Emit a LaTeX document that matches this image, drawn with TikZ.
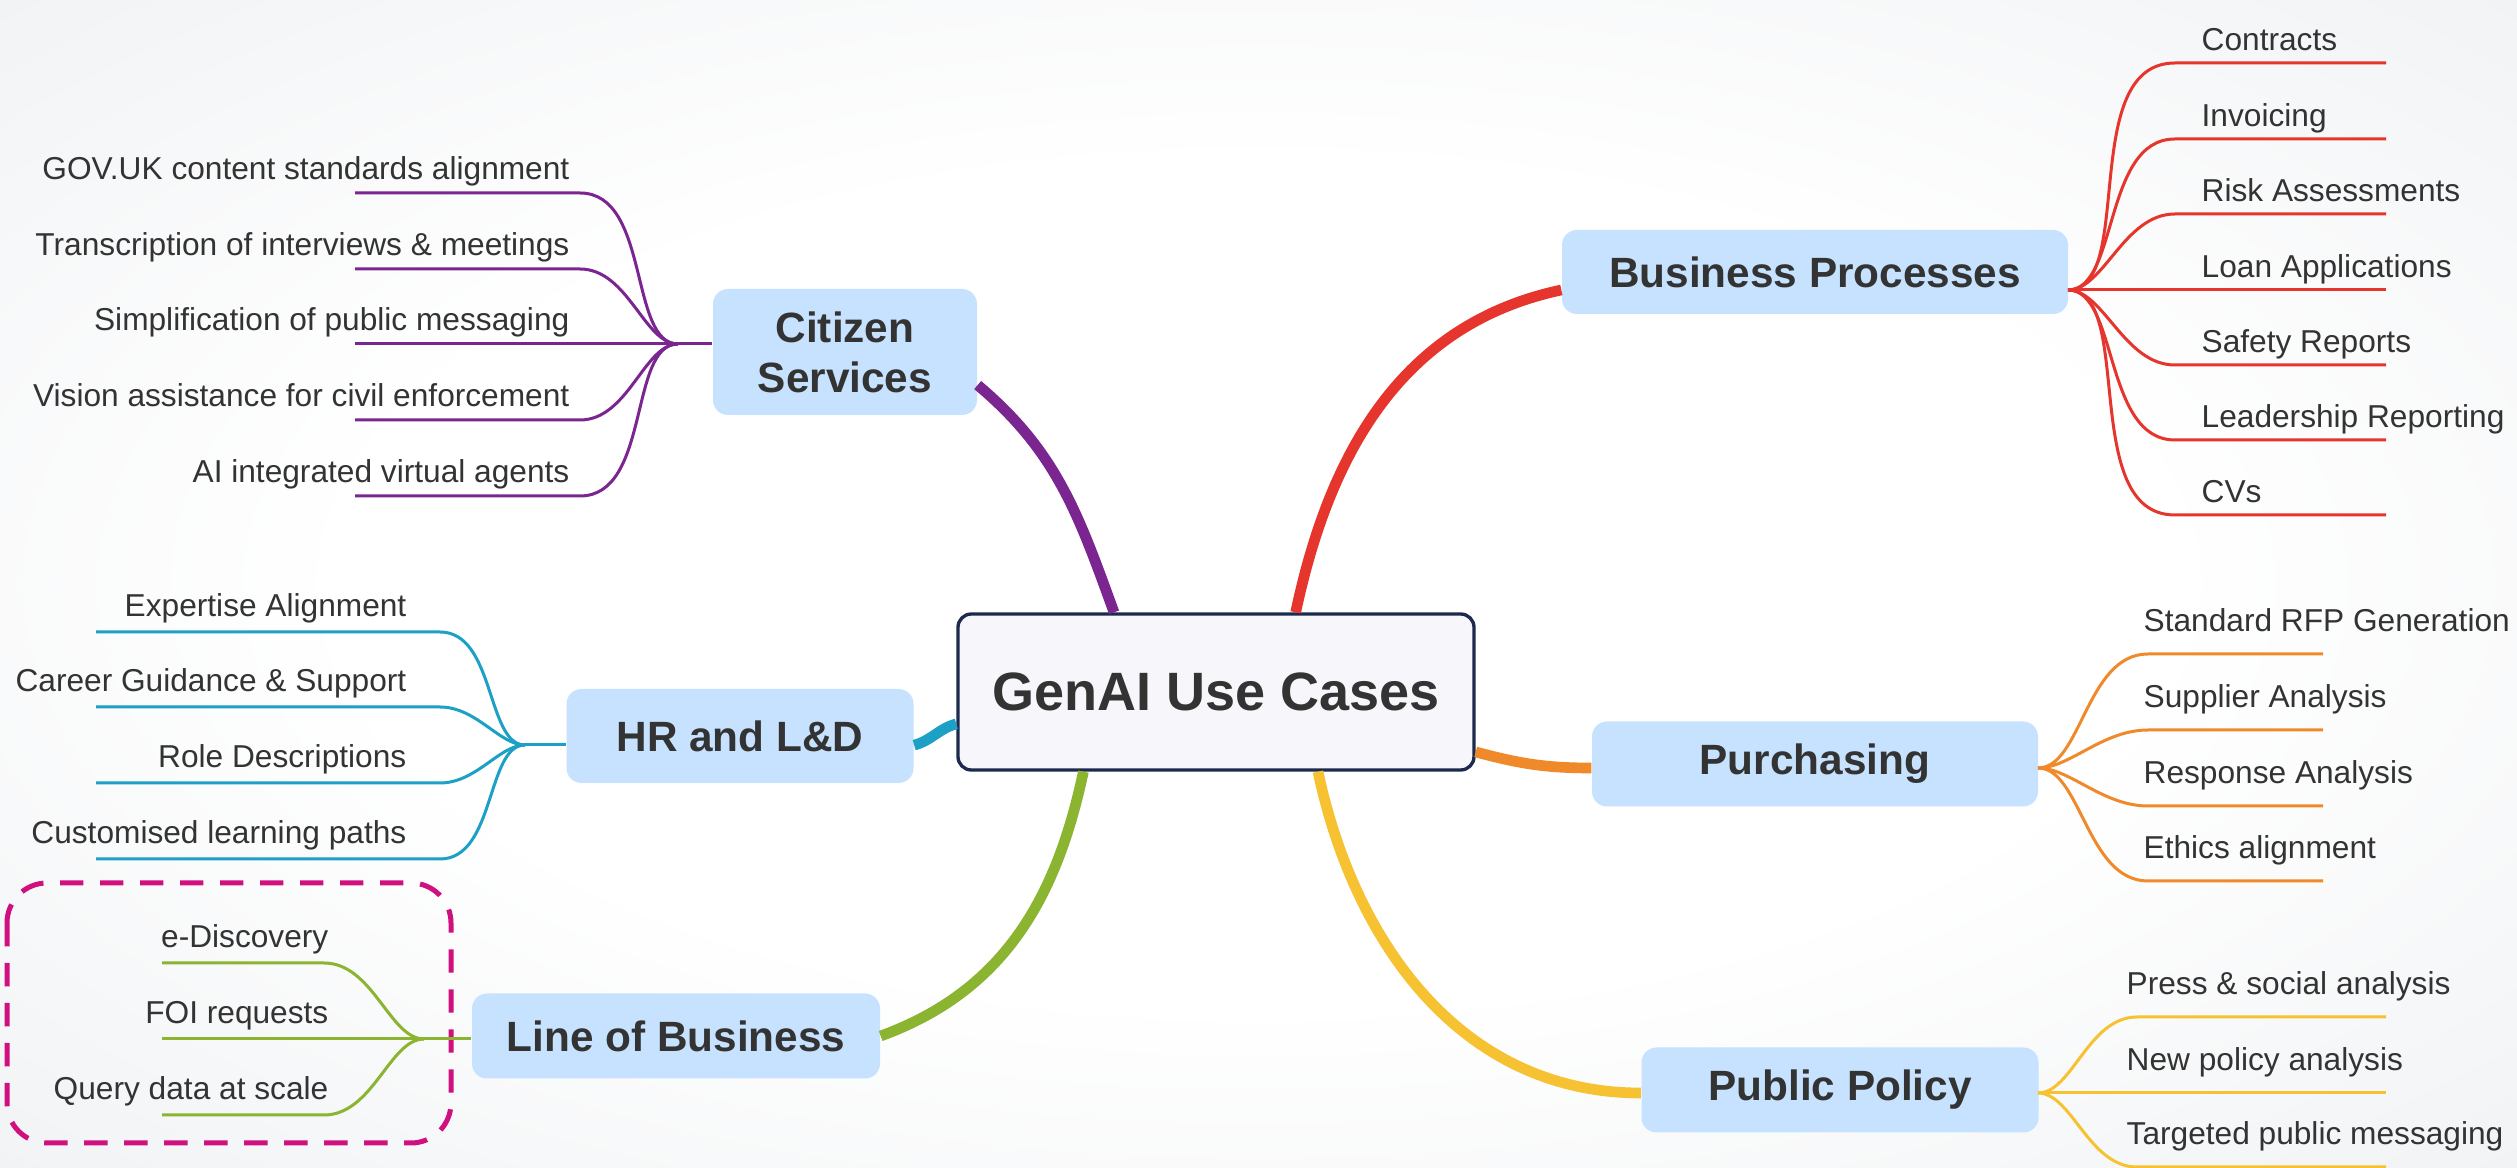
\documentclass[tikz,border=0pt]{standalone}
\usepackage{fontspec}
\setmainfont{Liberation Sans}
\definecolor{ink}{HTML}{333333}
\definecolor{bgedge}{HTML}{E6E9EC}
\definecolor{rootfill}{HTML}{F6F6FB}
\definecolor{rootline}{HTML}{1C2A4C}
\definecolor{topicfill}{HTML}{C6E2FE}
\definecolor{cpurple}{HTML}{7A2590}
\definecolor{cred}{HTML}{E5352D}
\definecolor{ccyan}{HTML}{1CA0C6}
\definecolor{corange}{HTML}{F0892A}
\definecolor{cgreen}{HTML}{8BB431}
\definecolor{cyellow}{HTML}{F6C231}
\definecolor{framepink}{HTML}{D0107F}
\pgfdeclareradialshading{bgshade}{\pgfpoint{0bp}{0bp}}{color(0bp)=(white); color(18bp)=(white); color(50bp)=(bgedge); color(100bp)=(bgedge)}
\begin{document}
\begin{tikzpicture}[x=0.3pt,y=-0.3pt,
  root/.style={draw=rootline, line width=1pt, fill=rootfill, rounded corners=4pt,
    minimum width=154.8pt, minimum height=46.8pt, text=ink,
    font=\fontsize{16.2}{19}\selectfont\bfseries},
  topic/.style={fill=topicfill, rounded corners=4.5pt, inner sep=0pt, align=center,
    text=ink, font=\fontsize{12.7}{15}\selectfont\bfseries},
  leafl/.style={anchor=base east, inner sep=0pt, text=ink, font=\fontsize{9.5}{11}\selectfont},
  leafr/.style={anchor=base west, inner sep=0pt, text=ink, font=\fontsize{9.5}{11}\selectfont},
  trunk/.style={line width=3.2pt},
  twig/.style={line width=0.9pt},
  lcurve/.style={out=180, in=0, out looseness=0.7, in looseness=1},
  rcurve/.style={out=0, in=180, out looseness=0.7, in looseness=1},
  lbframe/.style={draw=framepink, line width=1.5pt, dash pattern=on 7pt off 5pt, rounded corners=12pt}]
      \shade[shading=bgshade] (0,0) rectangle (2517,1168);
      \useasboundingbox (0,0) rectangle (2517,1168);
      \draw
        (1216,692) node[root] (root){GenAI Use Cases}
        (845,352) node[topic, minimum width=79.2pt, minimum height=37.8pt] (cs){Citizen\\Services}
        (1815,272) node[topic, minimum width=151.8pt, minimum height=25.2pt] (bp){Business Processes}
        (740,736) node[topic, minimum width=104.1pt, minimum height=28.2pt] (hr){HR and L\&D}
        (1815,764) node[topic, minimum width=133.8pt, minimum height=25.5pt] (pu){Purchasing}
        (1840,1090) node[topic, minimum width=119.1pt, minimum height=25.5pt] (pp){Public Policy}
        (676,1036) node[topic, minimum width=122.4pt, minimum height=25.5pt] (lb){Line of Business};
      \draw
        (678,344) coordinate (cshub)
        (580,193) coordinate (cs1a) (355,193) coordinate (cs1b)
        (580,269) coordinate (cs2a) (355,269) coordinate (cs2b)
        (580,344) coordinate (cs3a) (355,344) coordinate (cs3b)
        (580,420) coordinate (cs4a) (355,420) coordinate (cs4b)
        (580,496) coordinate (cs5a) (355,496) coordinate (cs5b)
        (570,180) node[leafl] (cs1){GOV.UK content standards alignment}
        (570,256) node[leafl] (cs2){Transcription of interviews \& meetings}
        (570,331) node[leafl] (cs3){Simplification of public messaging}
        (570,407) node[leafl] (cs4){Vision assistance for civil enforcement}
        (570,483) node[leafl] (cs5){AI integrated virtual agents};
      \draw
        (525,745) coordinate (hrhub)
        (440,632) coordinate (hr1a) (96,632) coordinate (hr1b)
        (440,707) coordinate (hr2a) (96,707) coordinate (hr2b)
        (440,783) coordinate (hr3a) (96,783) coordinate (hr3b)
        (440,859) coordinate (hr4a) (96,859) coordinate (hr4b)
        (407,617) node[leafl] (hr1){Expertise Alignment}
        (407,692) node[leafl] (hr2){Career Guidance \& Support}
        (407,768) node[leafl] (hr3){Role Descriptions}
        (407,844) node[leafl] (hr4){Customised learning paths};
      \draw
        (424,1039) coordinate (lbhub)
        (324,963) coordinate (lb1a) (162,963) coordinate (lb1b)
        (324,1039) coordinate (lb2a) (162,1039) coordinate (lb2b)
        (324,1115) coordinate (lb3a) (162,1115) coordinate (lb3b)
        (329,948) node[leafl] (lb1){e-Discovery}
        (329,1024) node[leafl] (lb2){FOI requests}
        (329,1100) node[leafl] (lb3){Query data at scale};
      \draw
        (2068,290) coordinate (bphub)
        (2175,63) coordinate (bp1a) (2386,63) coordinate (bp1b)
        (2175,139) coordinate (bp2a) (2386,139) coordinate (bp2b)
        (2175,214) coordinate (bp3a) (2386,214) coordinate (bp3b)
        (2175,290) coordinate (bp4a) (2386,290) coordinate (bp4b)
        (2175,365) coordinate (bp5a) (2386,365) coordinate (bp5b)
        (2175,440) coordinate (bp6a) (2386,440) coordinate (bp6b)
        (2175,515) coordinate (bp7a) (2386,515) coordinate (bp7b)
        (2201,51) node[leafr] (bp1){Contracts}
        (2201,127) node[leafr] (bp2){Invoicing}
        (2201,202) node[leafr] (bp3){Risk Assessments}
        (2201,278) node[leafr] (bp4){Loan Applications}
        (2201,353) node[leafr] (bp5){Safety Reports}
        (2201,428) node[leafr] (bp6){Leadership Reporting}
        (2201,503) node[leafr] (bp7){CVs};
      \draw
        (2038,768) coordinate (puhub)
        (2148,654) coordinate (pu1a) (2323,654) coordinate (pu1b)
        (2148,730) coordinate (pu2a) (2323,730) coordinate (pu2b)
        (2148,806) coordinate (pu3a) (2323,806) coordinate (pu3b)
        (2148,881) coordinate (pu4a) (2323,881) coordinate (pu4b)
        (2143,632) node[leafr] (pu1){Standard RFP Generation}
        (2143,708) node[leafr] (pu2){Supplier Analysis}
        (2143,784) node[leafr] (pu3){Response Analysis}
        (2143,859) node[leafr] (pu4){Ethics alignment};
      \draw
        (2038,1093) coordinate (pphub)
        (2137,1017) coordinate (pp1a) (2386,1017) coordinate (pp1b)
        (2137,1093) coordinate (pp2a) (2386,1093) coordinate (pp2b)
        (2137,1167) coordinate (pp3a) (2386,1167) coordinate (pp3b)
        (2126,995) node[leafr] (pp1){Press \& social analysis}
        (2126,1071) node[leafr] (pp2){New policy analysis}
        (2126,1145) node[leafr] (pp3){Targeted public messaging};
      \draw[lbframe] (7,883) rectangle (451,1143);
      \begin{scope}[trunk]
        \draw[cpurple] (cs.-14) to[out=-40,in=110] (root.142);
        \draw[cred] (root.45) to[out=78,in=192] (bphub -| bp.west);
        \draw[ccyan] (hr.-3) to[out=15,in=195] (root.187);
        \draw[corange] (root.-13) to[out=-15,in=180] (puhub -| pu.west);
        \draw[cyellow] (root.-38) to[out=-78,in=180] (pphub -| pp.west);
        \draw[cgreen] (lb.east) to[out=20,in=-102] (root.211);
      \end{scope}
      \begin{scope}[twig, cpurple]
        \draw (cshub) -- (cshub -| cs.west);
        \draw (cshub) to[lcurve] (cs1a) -- (cs1b);
        \draw (cshub) to[lcurve] (cs2a) -- (cs2b);
        \draw (cshub) to[lcurve] (cs3a) -- (cs3b);
        \draw (cshub) to[lcurve] (cs4a) -- (cs4b);
        \draw (cshub) to[lcurve] (cs5a) -- (cs5b);
      \end{scope}
      \begin{scope}[twig, ccyan]
        \draw (hrhub) -- (hrhub -| hr.west);
        \draw (hrhub) to[lcurve] (hr1a) -- (hr1b);
        \draw (hrhub) to[lcurve] (hr2a) -- (hr2b);
        \draw (hrhub) to[lcurve] (hr3a) -- (hr3b);
        \draw (hrhub) to[lcurve] (hr4a) -- (hr4b);
      \end{scope}
      \begin{scope}[twig, cgreen]
        \draw (lbhub) -- (lbhub -| lb.west);
        \draw (lbhub) to[lcurve] (lb1a) -- (lb1b);
        \draw (lbhub) to[lcurve] (lb2a) -- (lb2b);
        \draw (lbhub) to[lcurve] (lb3a) -- (lb3b);
      \end{scope}
      \begin{scope}[twig, cred]
        \draw (bphub) to[rcurve] (bp1a) -- (bp1b);
        \draw (bphub) to[rcurve] (bp2a) -- (bp2b);
        \draw (bphub) to[rcurve] (bp3a) -- (bp3b);
        \draw (bphub) to[rcurve] (bp4a) -- (bp4b);
        \draw (bphub) to[rcurve] (bp5a) -- (bp5b);
        \draw (bphub) to[rcurve] (bp6a) -- (bp6b);
        \draw (bphub) to[rcurve] (bp7a) -- (bp7b);
      \end{scope}
      \begin{scope}[twig, corange]
        \draw (puhub) to[rcurve] (pu1a) -- (pu1b);
        \draw (puhub) to[rcurve] (pu2a) -- (pu2b);
        \draw (puhub) to[rcurve] (pu3a) -- (pu3b);
        \draw (puhub) to[rcurve] (pu4a) -- (pu4b);
      \end{scope}
      \begin{scope}[twig, cyellow]
        \draw (pphub) to[rcurve] (pp1a) -- (pp1b);
        \draw (pphub) to[rcurve] (pp2a) -- (pp2b);
        \draw (pphub) to[rcurve] (pp3a) -- (pp3b);
      \end{scope}
    \end{tikzpicture}
\end{document}
